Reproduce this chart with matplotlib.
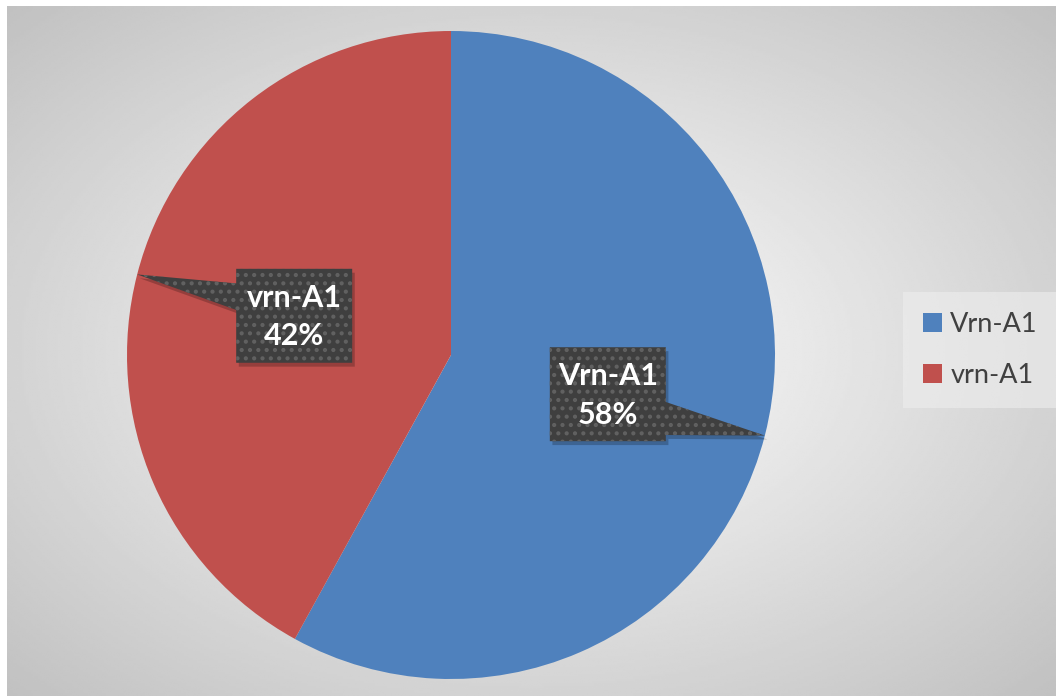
import numpy as np
import matplotlib
matplotlib.use("Agg")
import matplotlib.pyplot as plt
from matplotlib.patches import Polygon, Patch

# ---- data ----
categories = ["Vrn-A1", "vrn-A1"]
values = [58, 42]
colors = ["#4F81BD", "#C0504D"]

matplotlib.rcParams["hatch.linewidth"] = 1.8

W, H = 1056, 696
fig = plt.figure(figsize=(W / 100, H / 100), dpi=100)
fig.patch.set_facecolor("white")

# ---- background radial gradient ----
bg = fig.add_axes([7 / W, 0, (W - 7) / W, (H - 6) / H])
bg.set_axis_off()
ny, nx = 300, 460
yy, xx = np.mgrid[-1:1:ny * 1j, -1:1:nx * 1j]
d = np.sqrt(xx ** 2 + yy ** 2)
val = (255 - 44 * d) / 255.0
bg.imshow(val, cmap="gray", vmin=0, vmax=1, aspect="auto",
          extent=[0, 1, 0, 1], interpolation="bilinear")
bg.set_xlim(0, 1)
bg.set_ylim(0, 1)

# ---- pie ----
cx, cy, R = 451, H - 355, 324
ax = fig.add_axes([(cx - R) / W, (cy - R) / H, 2 * R / W, 2 * R / H])
wedges, _ = ax.pie(values, colors=colors, startangle=90, counterclock=False,
                   radius=1.0, wedgeprops=dict(linewidth=0))
ax.set_xlim(-1, 1)
ax.set_ylim(-1, 1)
ax.set_aspect("equal")
ax.set_axis_off()

# ---- callout labels ----
bw, bh = 0.358, 0.29
for w, cat, v in zip(wedges, categories, values):
    mid = np.deg2rad((w.theta1 + w.theta2) / 2)
    tip = np.array([np.cos(mid), np.sin(mid)])
    bcx = np.sign(tip[0]) * 0.484
    bcy = np.sign(tip[1]) * 0.121
    x0, x1 = bcx - bw / 2, bcx + bw / 2
    y0, y1 = bcy - bh / 2, bcy + bh / 2
    if tip[0] < 0:
        pts = [(x0, y1), (x0, bcy + 0.10), tip, (x0, bcy + 0.018),
               (x0, y0), (x1, y0), (x1, y1)]
    else:
        pts = [(x0, y1), (x1, y1), (x1, bcy - 0.024), tip, (x1, bcy - 0.126),
               (x1, y0), (x0, y0)]
    pts = np.array(pts)
    sh = Polygon(pts + np.array([0.008, -0.012]), closed=True,
                 facecolor="black", alpha=0.22, linewidth=0, zorder=4)
    ax.add_patch(sh)
    poly = Polygon(pts, closed=True, facecolor="#3F3F3F", edgecolor="#616161",
                   linewidth=0, hatch="..", zorder=5)
    ax.add_patch(poly)
    ax.text(bcx, bcy - 0.004, f"{cat}\n{v}%", ha="center", va="center",
            color="white", fontsize=22, fontweight="bold", family="Lato",
            linespacing=1.45, zorder=6)

# ---- legend ----
handles = [Patch(facecolor=c, edgecolor="none") for c in colors]
leg = fig.legend(handles, categories, loc="center left",
                 bbox_to_anchor=(903 / W, 1 - 350 / H),
                 frameon=True, fancybox=False,
                 prop={"family": "Lato", "size": 19.5},
                 handlelength=0.7, handleheight=0.7, handletextpad=0.3,
                 labelspacing=0.95, borderpad=0.75, borderaxespad=0)
leg.get_frame().set_facecolor("#EEEEEE")
leg.get_frame().set_alpha(0.6)
leg.get_frame().set_linewidth(0)
for t in leg.get_texts():
    t.set_color("#404040")

fig.savefig("out.png", dpi=100)
